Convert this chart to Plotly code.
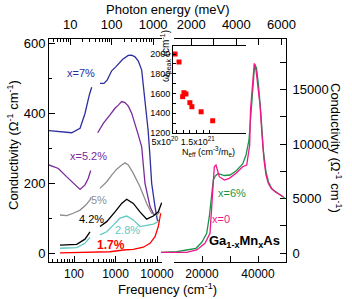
import math
import plotly.graph_objects as go

# ---------------- data ----------------
# Left panel (log frequency, cm^-1) ; None marks the removed phonon region
f_x7 = [25, 41, 67, 88, 140, 184, 234, 267, None, 423, 528, 634, 809, 1028, 1283, 1491, 2032, 2453, 2950, 3541, 4276, 5150, 6100, 6740, 7450, 8950, 10170, 10870]
s_x7 = [351, 349, 347, 345, 358, 400, 453, 475, None, 486, 486, 496, 522, 534, 545, 555, 566, 567, 562, 550, 524, 438, 353, 281, 200, 134, 96, 93]

f_x52 = [25, 42, 67, 106, 140, 184, 221, 253, None, 372, 508, 737, 972, 1168, 1410, 1694, 2034, 2453, 2950, 3541, 4276, 5140, 6780, 8470]
s_x52 = [253, 243, 219, 196, 183, 196, 215, 237, None, 345, 372, 396, 415, 424, 434, 431, 421, 401, 372, 339, 305, 200, 134, 110]

f_x5 = [46, 67, 96, 140, 195, 243, 257, None, 423, 614, 809, 1069, 1410, 1694, 2034, 2686, 3891, 5645, 7450, 9840, 11800]
s_x5 = [110, 108, 115, 124, 139, 153, 161, None, 186, 205, 224, 241, 253, 259, 253, 229, 191, 143, 115, 110, 119]

f_x42 = [46, 116, 184, 243, None, 423, 614, 972, 1410, 1862, 2686, 3891, 5645, 8150, 10740, 12970]
s_x42 = [24, 26, 41, 62, None, 77, 91, 119, 143, 155, 143, 119, 98, 107, 119, 145]

f_x28 = [46, 116, 184, 243, None, 423, 614, 885, 1283, 1862, 2686, 3891, 5645, 8150, 10740]
s_x28 = [15, 17, 29, 46, None, 53, 62, 81, 101, 107, 96, 77, 81, 84, 91]

f_x17 = [46, 168, 737, 1542, 2686, 4680, 6780, 8950, 10740, 12280]
s_x17 = [2, 3, 5, 10, 12, 18, 29, 48, 77, 115]

# Right panel (linear frequency, cm^-1)
f_x0 = [5000, 14536, 18107, 21071, 22857, 23571, 23821, 24036, 24393, 25000, 25607, 26179, 27964, 29750, 32143, 34536, 35964, 37036, 37321, 38036, 38679, 39286, 40000, 40714, 41429, 42143, 42857, 43679, 44643, 46071, 49036]
s_x0 = [50, 64, 275, 890, 1807, 4560, 6082, 7312, 7917, 8073, 7614, 7000, 6697, 6853, 7312, 7917, 8073, 9908, 13119, 15871, 17403, 16788, 15413, 13578, 10825, 8532, 7156, 6394, 5963, 5624, 5165]

f_x6 = [5000, 10964, 14536, 17857, 20000, 21679, 22607, 23214, 23571, 24036, 24750, 25607, 26179, 27964, 30000, 32143, 34536, 35714, 36786, 37679, 38214, 38821, 39464, 40179, 41071, 41893, 42857, 43750, 45000, 47857, 49643]
s_x6 = [46, 119, 275, 431, 1009, 1807, 3330, 4862, 6082, 6697, 7064, 7248, 7248, 7110, 7156, 7523, 8165, 8991, 10367, 13119, 15413, 17339, 16972, 15413, 12660, 9449, 7431, 6514, 5871, 5321, 5018]

# Inset: peak frequency vs effective carrier density
n_eff = [4.5e20, 5.7e20, 7.2e20, 7.8e20, 6.8e20, 9.0e20, 9.6e20, 1.24e21, 1.59e21]
w_peak = [2000, 1919, 1608, 1595, 1568, 1507, 1466, 1415, 1324]

left_ticks = [100, 1000, 10000]
top_left_ticks = [10, 100, 1000]
top_right_ticks = [2000, 4000, 6000]
right_x_ticks = [20000, 40000]
left_y_ticks = [0, 200, 400, 600]
right_y_ticks = [0, 5000, 10000, 15000]
inset_y_ticks = [1200, 1400, 1600, 1800, 2000]
inset_x_ticks = [5e20, 1.5e21]
inset_x_text = ["5x10<sup>20</sup>", "1.5x10<sup>21</sup>"]

CM_PER_MEV = 8.06554

# ---------------- layout geometry (screen pixels) ----------------
W, H = 352, 299
SL, SR, ST, SB = 49, 286, 39, 262          # plot frame
L, T, R, B = SL, ST, W - SR, H - SB
PW, PH = W - L - R, H - T - B


def px_x(p):
    return (p - SL) / PW


def px_y(p):
    return (SB - p) / PH


FONT = "Liberation Sans, Arial, Helvetica, sans-serif"

fig = go.Figure()

lw = 1.3
for f, s, c in [(f_x7, s_x7, "#2E2E9E"), (f_x52, s_x52, "#7A2A9A"), (f_x5, s_x5, "#8E8E8E"),
                (f_x42, s_x42, "#000000"), (f_x28, s_x28, "#5FC9C4"), (f_x17, s_x17, "#FF0000")]:
    fig.add_trace(go.Scatter(x=f, y=s, mode="lines", line=dict(color=c, width=lw),
                             connectgaps=False, xaxis="x", yaxis="y", showlegend=False))

for f, s, c in [(f_x6, s_x6, "#17964A"), (f_x0, s_x0, "#F0168C")]:
    fig.add_trace(go.Scatter(x=f, y=s, mode="lines", line=dict(color=c, width=lw),
                             xaxis="x5", yaxis="y2", showlegend=False))

fig.add_trace(go.Scatter(x=n_eff, y=w_peak, mode="markers",
                         marker=dict(symbol="square", size=5, color="#FF0000"),
                         xaxis="x6", yaxis="y6", showlegend=False))

# empty traces so the decorative top axes exist
fig.add_trace(go.Scatter(x=[], y=[], xaxis="x3", yaxis="y", showlegend=False))
fig.add_trace(go.Scatter(x=[], y=[], xaxis="x4", yaxis="y", showlegend=False))
fig.add_trace(go.Scatter(x=[], y=[], xaxis="x2", yaxis="y2", showlegend=False))

lx0 = 2 - 25 / 41.5
lx1 = 2 + 88 / 41.5
left_range = [lx0, lx1]
top_left_range = [lx0 - math.log10(CM_PER_MEV), lx1 - math.log10(CM_PER_MEV)]

ytop_left = (253.5 - ST) * 200 / 70
ybot_left = (253.5 - SB) * 200 / 70
ytop_right = (253 - ST) * 5000 / 54.5
ybot_right = (253 - SB) * 5000 / 54.5

rx_per_px = 40000 / 112
right_data_range = [10000 - 13 * rx_per_px, 50000]


def minor_log(lo, hi):
    out = []
    d = 1
    while d < hi:
        for k in range(2, 10):
            v = k * d
            if lo <= v <= hi:
                out.append(v)
        d *= 10
    return out


axis_common = dict(showgrid=False, zeroline=False, showline=True, linecolor="black", linewidth=1,
                   ticks="inside", ticklen=6, tickcolor="black", tickwidth=1,
                   tickfont=dict(family=FONT, size=13, color="black"))
bottom_font = dict(family=FONT, size=12, color="black")

fig.update_layout(
    width=W, height=H, margin=dict(l=L, r=R, t=T, b=B, pad=0),
    paper_bgcolor="white", plot_bgcolor="rgba(0,0,0,0)", showlegend=False,
    font=dict(family=FONT, size=13, color="black"),
    xaxis=dict(axis_common, type="log", domain=[0, px_x(162)], range=left_range, anchor="y",
               tickvals=left_ticks, ticktext=[str(v) for v in left_ticks], ticklabelstandoff=1,
               tickfont=bottom_font,
               minor=dict(tickvals=minor_log(20, 13000), ticks="inside", ticklen=3, tickcolor="black")),
    xaxis3=dict(axis_common, type="log", domain=[0, px_x(162)], range=top_left_range, anchor="y",
                overlaying="x", side="top", tickvals=top_left_ticks,
                ticktext=[str(v) for v in top_left_ticks], ticklabelstandoff=4,
                minor=dict(tickvals=minor_log(2, 1700), ticks="inside", ticklen=3, tickcolor="black")),
    xaxis2=dict(axis_common, domain=[px_x(174), 1], range=[10000, 50000], anchor="y",
                tickvals=right_x_ticks, ticktext=[str(v) for v in right_x_ticks], ticklabelstandoff=1,
                tickfont=bottom_font,
                minor=dict(tickvals=[10000, 30000, 50000], ticks="inside", ticklen=6, tickcolor="black")),
    xaxis4=dict(axis_common, domain=[px_x(174), 1], range=[10000 / CM_PER_MEV, 50000 / CM_PER_MEV],
                anchor="y", overlaying="x2", side="top", tickvals=top_right_ticks,
                ticktext=[str(v) for v in top_right_ticks], ticklabelstandoff=4,
                minor=dict(tickvals=[3000, 5000], ticks="inside", ticklen=6, tickcolor="black")),
    xaxis5=dict(visible=False, domain=[px_x(161), 1], range=right_data_range, anchor="y2"),
    yaxis=dict(axis_common, domain=[0, 1], range=[ybot_left, ytop_left], anchor="x",
               tickvals=left_y_ticks, ticktext=[str(v) for v in left_y_ticks],
               minor=dict(dtick=100, ticks="inside", ticklen=3, tickcolor="black")),
    yaxis2=dict(axis_common, domain=[0, 1], range=[ybot_right, ytop_right], anchor="x2",
                overlaying="y", side="right", tickvals=right_y_ticks,
                ticktext=[str(v) for v in right_y_ticks], ticklabelstandoff=3,
                minor=dict(dtick=2500, ticks="inside", ticklen=6, tickcolor="black")),
    xaxis6=dict(axis_common, domain=[px_x(173), px_x(246)], anchor="y6",
                range=[5e20 - 3.7 / 33 * 1e21, 5e20 + 69.3 / 33 * 1e21],
                tickvals=inset_x_ticks, ticktext=inset_x_text, ticklen=3, mirror=True,
                ticklabelshift=-12,
                tickfont=dict(family=FONT, size=9, color="black"),
                minor=dict(tickvals=[7e20, 9e20, 1.1e21, 1.3e21], ticks="inside", ticklen=3, tickcolor="black")),
    yaxis6=dict(axis_common, domain=[px_y(133), px_y(46)], anchor="x6",
                range=[1200, 2000 + 8 / 9.875 * 100], tickvals=inset_y_ticks,
                ticktext=[str(v) for v in inset_y_ticks], ticklen=3,
                tickfont=dict(family=FONT, size=9, color="black"),
                minor=dict(dtick=100, ticks="inside", ticklen=3, tickcolor="black")),
)

ann = []


def lab(text, x, y, color, xref, yref, size=11, bold=False):
    if bold:
        text = "<b>" + text + "</b>"
    ann.append(dict(text=text, x=x, y=y, xref=xref, yref=yref, showarrow=False,
                    font=dict(family=FONT, size=size, color=color), xanchor="center", yanchor="middle"))


lab("x=7%", 2.157, 517, "#2E2E9E", "x", "y")
lab("x=5.2%", 2.361, 279, "#7A2A9A", "x", "y")
lab("5%", 2.602, 153, "#8E8E8E", "x", "y")
lab("4.2%", 2.41, 99, "#000000", "x", "y")
lab("2.8%", 3.301, 66, "#5FC9C4", "x", "y")
lab("1.7%", 2.892, 24, "#FF0000", "x", "y", size=12, bold=True)
lab("x=6%", 30714, 5504, "#17964A", "x5", "y2")
lab("x=0", 26786, 3119, "#F0168C", "x5", "y2")
lab("Ga<sub>1-x</sub>Mn<sub>x</sub>As", 35000, 1101, "black", "x5", "y2", size=13, bold=True)


def paper_text(text, sx, sy, size=13, angle=0):
    ann.append(dict(text=text, x=px_x(sx), y=px_y(sy), xref="paper", yref="paper", showarrow=False,
                    textangle=angle, font=dict(family=FONT, size=size, color="black"),
                    xanchor="center", yanchor="middle"))


paper_text("Frequency (cm<sup>-1</sup>)", 167.5, 288.5)
paper_text("Photon energy (meV)", 167.5, 9)
paper_text("Conductivity (Ω<sup>-1</sup> cm<sup>-1</sup>)", 13, 145, angle=-90)
paper_text("Conductivity (Ω<sup>-1</sup> cm<sup>-1</sup>)", 336, 148, angle=90)
paper_text("ω<sub>peak</sub> (cm<sup>-1</sup>)", 166, 56, size=10, angle=-90)
paper_text("N<sub>eff</sub> (cm<sup>-3</sup>/m<sub>e</sub>)", 208, 151, size=9)

fig.update_layout(annotations=ann)
# the default page has an 8 px body margin; remove it so the figure fills the window
fig.write_html("out.html", config={"displayModeBar": False},
               post_script="document.body.style.margin='0px';")
